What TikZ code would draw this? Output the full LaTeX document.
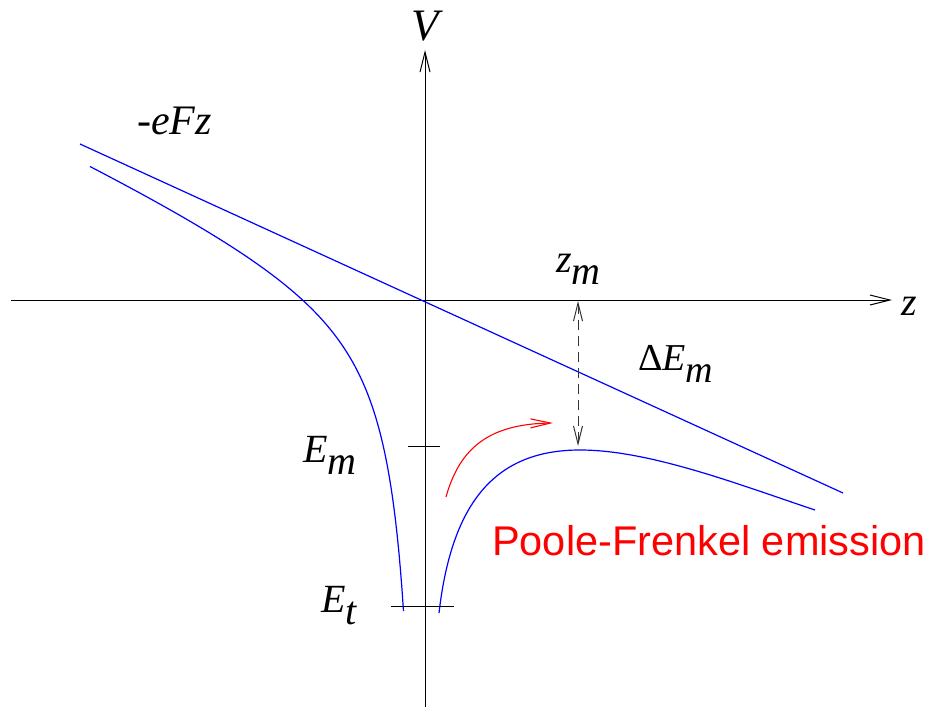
\documentclass[tikz,border=0pt]{standalone}
\usepackage{fontspec}
\setmainfont{Liberation Serif}
\newfontfamily\sansf{Liberation Sans}
\usetikzlibrary{arrows.meta}
\newcommand{\lsub}[1]{\raisebox{-12pt}{#1}}
\begin{document}
\begin{tikzpicture}[x=1pt,y=-1pt,
  axis/.style={line width=1pt, -{Straight Barb[length=20pt,width=10pt,line width=1pt]}},
  curve/.style={blue, line width=1.2pt},
  tick/.style={line width=1pt},
  lab/.style={inner sep=0pt, anchor=base west, font=\fontsize{40}{44}\selectfont\itshape},
  dasharrow/.style={line width=1pt, black!80, dash pattern=on 10pt off 6pt,
     {Straight Barb[length=18pt,width=9pt,line width=1pt]}-{Straight Barb[length=18pt,width=9pt,line width=1pt]}},
  redarrow/.style={red, line width=1.1pt, -{Straight Barb[length=20pt,width=9pt,line width=1.1pt]}}
 ]
\useasboundingbox (0,0) rectangle (930,707);
% axes
\coordinate (O) at (425,300);
\coordinate (zL) at (11,300);
\coordinate (zR) at (892,300);
\coordinate (vB) at (425,707);
\coordinate (vT) at (425,50);
\draw[axis] (zL) -- (zR);
\draw[axis] (vB) -- (vT);
\node[lab, anchor=base, font=\fontsize{45}{48}\selectfont\itshape] (V) at (425,40) {V};
\node[lab, anchor=base] (z) at (909,315) {z};
% straight line -eFz
\coordinate (L1) at (80,144);
\coordinate (L2) at (843,493);
\draw[curve] (L1) -- (L2);
% potential curve, left branch
\draw[curve] plot[domain=-335:-21.5, samples=200, variable=\u] ({425+\u},{300+0.46*\u-6900/\u});
% right branch
\coordinate (R0) at (439,613);
\coordinate (Rm) at (580,450);
\coordinate (R1) at (815,510);
\draw[curve] (R0) .. controls (452,500) and (497,450) .. (Rm)
                  .. controls (650,450) and (740,485) .. (R1);
% ticks
\coordinate (EmA) at (408,446);
\coordinate (EmB) at (440,446);
\coordinate (EtA) at (391,606);
\coordinate (EtB) at (454,606);
\draw[tick] (EmA) -- (EmB);
\draw[tick] (EtA) -- (EtB);
% dashed Delta E arrow
\coordinate (dT) at (578,301);
\coordinate (dB) at (578,446);
\draw[dasharrow] (dT) -- (dB);
% red emission arrow
\coordinate (rS) at (446,497);
\coordinate (rE) at (553,423);
\draw[redarrow] (rS) .. controls (460,447) and (490,424) .. (rE);
% labels
\node[lab, font=\fontsize{42}{46}\selectfont\itshape] (eFz) at (137,134) {-eFz};
\node[lab] (Em) at (303,462) {E\lsub{m}};
\node[lab] (Et) at (321,612) {E\lsub{t}};
\node[lab] (zm) at (556,272) {z\lsub{m}};
\node[lab] (dEm) at (638,370) {\upshape\fontsize{38}{42}\selectfont Δ\itshape E\lsub{m}};
\node[inner sep=0pt, anchor=base west, red, font=\sansf\fontsize{41.5}{45}\selectfont] (PF) at (492,555) {Poole-Frenkel emission};
\end{tikzpicture}
\end{document}
